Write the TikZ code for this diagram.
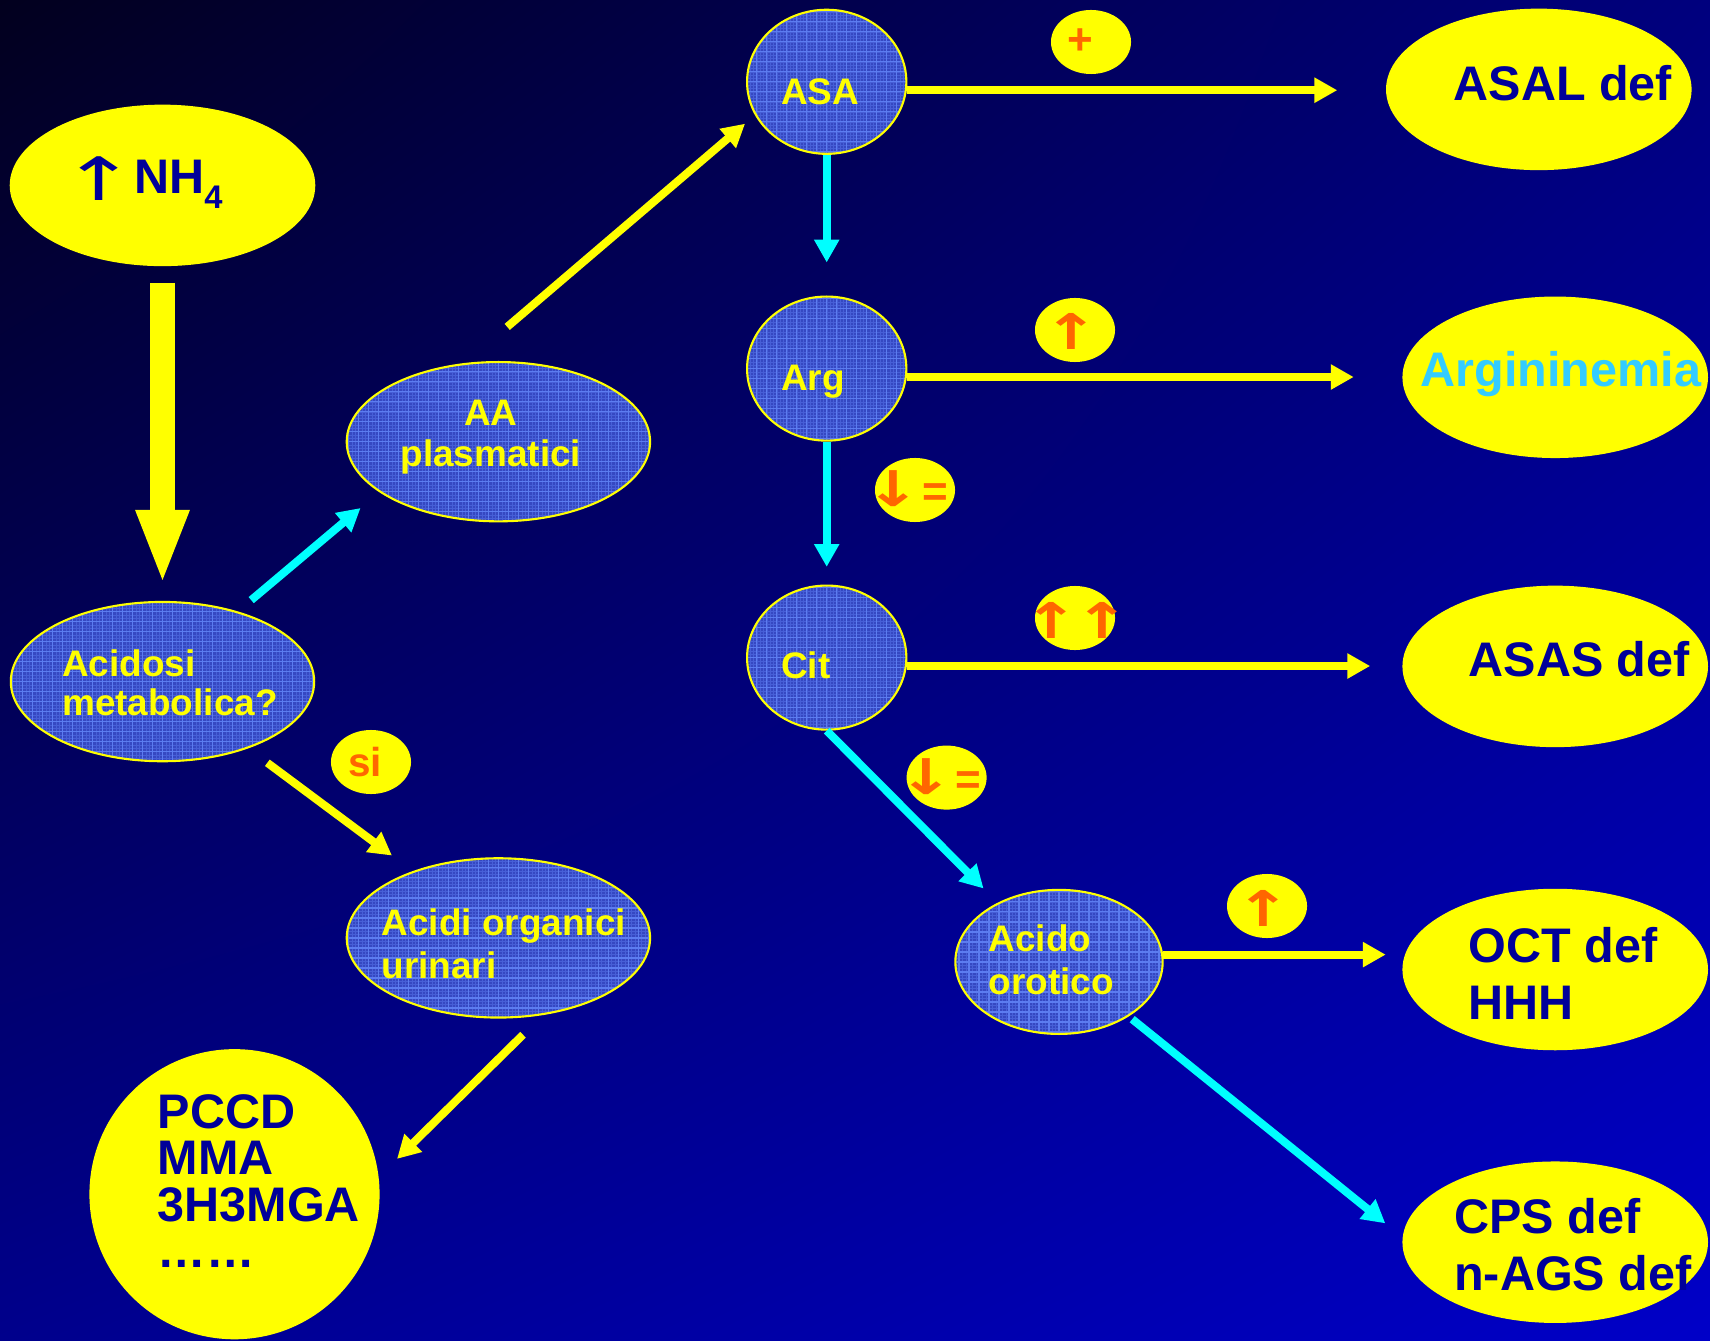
\documentclass[tikz,border=0pt]{standalone}
\usepackage{graphicx}
\usepackage{fontspec}
\setmainfont{Liberation Sans}
\newfontfamily\arrowfont{DejaVu Sans}[BoldFont={DejaVu Sans Bold}]
\usetikzlibrary{shapes.geometric,arrows.meta,shadings}

\definecolor{bgTL}{HTML}{02001E}
\definecolor{bgTR}{HTML}{00007E}
\definecolor{bgBL}{HTML}{00008C}
\definecolor{bgBR}{HTML}{0000C8}
\definecolor{bubblefill}{HTML}{3548C2}
\definecolor{bubblegrid}{HTML}{5C7CF0}
\definecolor{ink}{HTML}{000099}
\definecolor{tagorange}{HTML}{FF6600}
\definecolor{skyblue}{HTML}{33CCFF}
\definecolor{sun}{HTML}{FFFF00}
\definecolor{aqua}{HTML}{00FFFF}

% multi-line labels whose reference point is the baseline of the first line
\newcommand\stackleft[1]{\vtop{\halign{##\hfil\cr#1\crcr}}}
\newcommand\stackcenter[1]{\vtop{\halign{\hfil##\hfil\cr#1\crcr}}}
% wide-headed arrows for the small tags
\newcommand\arrowup{\scalebox{1.35}[1]{\arrowfont\bfseries ↑}}
\newcommand\arrowdown{\scalebox{1.35}[1]{\arrowfont\bfseries ↓}}
\newcommand\tageq{{\fontsize{12.5}{12}\selectfont\bfseries =}}

\tikzset{
  bigoval/.style={ellipse, fill=sun, draw=none, inner sep=0pt,
    minimum width=3.054cm, minimum height=1.614cm},
  bubble/.style={ellipse, fill=bubblefill, draw=sun, line width=0.6pt, inner sep=0pt,
    path picture={
      \draw[bubblegrid!45!bubblefill, line width=0.12pt]
        ([xshift=-1mm,yshift=-1mm]path picture bounding box.south west) grid[step=0.333mm]
        ([xshift=1mm,yshift=1mm]path picture bounding box.north east);
      \draw[bubblegrid, line width=0.35pt]
        ([xshift=-1mm,yshift=-1mm]path picture bounding box.south west) grid[step=1mm]
        ([xshift=1mm,yshift=1mm]path picture bounding box.north east);
    }},
  tagoval/.style={ellipse, fill=sun, draw=none, inner sep=0pt,
    minimum width=0.8cm, minimum height=0.64cm},
  bigtext/.style={anchor=base west, inner sep=0pt, text=ink,
    font=\fontsize{13.8}{16.4}\selectfont\bfseries},
  bubbletext/.style={anchor=base west, inner sep=0pt, text=sun,
    font=\fontsize{10.5}{12}\selectfont\bfseries},
  tagtext/.style={anchor=center, inner sep=0pt, text=tagorange,
    font=\fontsize{12.5}{12}\selectfont\bfseries},
  arrowtag/.style={tagtext, font=\fontsize{14}{14}\selectfont\bfseries},
  yarrow/.style={draw=sun, line width=2.28pt, -{Triangle[length=6.5pt,width=6.8pt]}},
  carrow/.style={yarrow, draw=aqua},
  blockarrow/.style={draw=sun, line width=6.83pt, -{Triangle[length=21.3pt,width=13.7pt]}},
}

\begin{document}
\begin{tikzpicture}[x=0.01cm, y=-0.01cm]
\useasboundingbox (0,0) rectangle (1710,1340);
\shade[upper left=bgTL, upper right=bgTR, lower left=bgBL, lower right=bgBR]
  (0,0) rectangle (1710,1340);

% ---- left branch ----
\node[bigoval] (nh) at (162.5,185.4) {};
\node[bubble, minimum width=3.032cm, minimum height=1.592cm] (acid) at (162.5,681.6) {};
\node[bubble, minimum width=3.032cm, minimum height=1.592cm] (aa) at (498.4,441.7) {};
\node[bubble, minimum width=3.032cm, minimum height=1.592cm] (org) at (498.4,937.9) {};
\node[bigoval, minimum width=2.9cm, minimum height=2.9cm] (pccd) at (234.5,1194.2) {};

% ---- urea cycle column ----
\node[bubble, minimum width=1.592cm, minimum height=1.44cm] (asa) at (826.7,81.8) {};
\node[bubble, minimum width=1.592cm, minimum height=1.44cm] (arg) at (826.7,368.6) {};
\node[bubble, minimum width=1.592cm, minimum height=1.44cm] (cit) at (826.7,657.6) {};
\node[bubble, minimum width=2.072cm, minimum height=1.44cm] (oro) at (1059,961.9) {};

% ---- diagnoses ----
\node[bigoval] (asal) at (1538.8,89.4) {};
\node[bigoval] (argi) at (1555.2,377.3) {};
\node[bigoval] (asas) at (1555.2,666.4) {};
\node[bigoval] (oct) at (1555.2,969.5) {};
\node[bigoval] (cps) at (1555.2,1242.2) {};

% ---- small tags ----
\node[tagoval] (tplus) at (1091,42) {};
\node[tagoval] (targ) at (1075,330) {};
\node[tagoval] (tcit) at (915,490) {};
\node[tagoval] (tasas) at (1075,618) {};
\node[tagoval] (toro) at (946.6,777.6) {};
\node[tagoval] (toct) at (1267,906) {};
\node[tagoval] (tsi) at (371,762) {};

% ---- connectors ----
\draw[blockarrow, shorten <=0.16cm, shorten >=0.16cm] (nh.south) -- (acid.north);
\draw[carrow, shorten <=0.175cm, shorten >=0.245cm] (acid.43) -- (aa.203);
\draw[yarrow, shorten <=0.555cm, shorten >=0.13cm] (aa.113) -- (asa.205);
\draw[yarrow, shorten <=0.24cm, shorten >=0.26cm] (acid.-38) -- (org.142);
\draw[yarrow, shorten <=0.28cm, shorten >=0.25cm] (org.-60) -- (pccd.7);
\draw[carrow, shorten >=0.33cm] (asa.south) -- (arg.north);
\draw[carrow, shorten >=0.176cm] (arg.south) -- (cit.north);
\draw[carrow, shorten >=0.20cm] (cit.south) -- (oro.136);
\draw[carrow, shorten <=0.044cm, shorten >=0.215cm] (oro.-38) -- (cps.178);
\draw[yarrow, shorten >=0.48cm] (asa.-6) -- (asa.-6 -| asal.west);
\draw[yarrow, shorten >=0.48cm] (arg.-6) -- (arg.-6 -| argi.west);
\draw[yarrow, shorten >=0.315cm] (cit.-6) -- (cit.-6 -| asas.west);
\draw[yarrow, shorten >=0.16cm] (oro.4) -- (oro.4 -| oct.west);

% ---- texts ----
\node[bigtext, anchor=center, font=\fontsize{17}{17}\selectfont] (nharrow) at (99.5,178.3)
  {\scalebox{1.5}[1]{\arrowfont ↑}};
\node[bigtext] (nhtext) at (133.5,193.3) {NH\raisebox{-4.2pt}{\fontsize{9.3}{9.3}\selectfont 4}};
\node[bubbletext, font=\fontsize{10.5}{11.1}\selectfont\bfseries] (acidtext) at (61.5,676) {\stackleft{Acidosi\cr metabolica?}};
\node[bubbletext, anchor=base, font=\fontsize{10.5}{11.8}\selectfont\bfseries] (aatext) at (490.8,425.3) {\stackcenter{AA\cr plasmatici}};
\node[bubbletext, font=\fontsize{10.5}{12.1}\selectfont\bfseries] (orgtext) at (381,935.7) {\stackleft{Acidi organici\cr urinari}};
\node[bigtext, font=\fontsize{13.8}{13.2}\selectfont\bfseries] (pccdtext) at (157,1128.3) {\stackleft{PCCD\cr MMA\cr 3H3MGA\cr ……}};

\node[bubbletext] (asatext) at (780.5,104.7) {ASA};
\node[bubbletext] (argtext) at (780.5,390.4) {Arg};
\node[bubbletext] (cittext) at (780.5,678.4) {Cit};
\node[bubbletext, font=\fontsize{10.5}{12.3}\selectfont\bfseries] (orotext) at (988,951.7) {\stackleft{Acido\cr orotico}};

\node[bigtext] (asaltext) at (1453,100.3) {ASAL def};
\node[bigtext, text=skyblue] (argitext) at (1420,387) {Argininemia};
\node[bigtext] (asastext) at (1468,676) {ASAS def};
\node[bigtext] (octtext) at (1468,962) {\stackleft{OCT def\cr HHH}};
\node[bigtext] (cpstext) at (1453.5,1233.3) {\stackleft{CPS def\cr n-AGS def}};

\node[tagtext] (tplustext) at (1080.7,42) {+};
\node[arrowtag] (targtext) at (1071,331.7) {\arrowup};
\node[arrowtag] (tcittext) at (907,489) {\arrowdown\kern0.5pt\tageq};
\node[arrowtag] (tasastext) at (1077,620) {\arrowup\kern-1.2pt\arrowup};
\node[arrowtag] (torotext) at (940,777) {\arrowdown\kern0.5pt\tageq};
\node[arrowtag] (tocttext) at (1263,908) {\arrowup};
\node[tagtext, font=\fontsize{11.5}{12}\selectfont\bfseries] (tsitext) at (365,762) {si};
\end{tikzpicture}
\end{document}
